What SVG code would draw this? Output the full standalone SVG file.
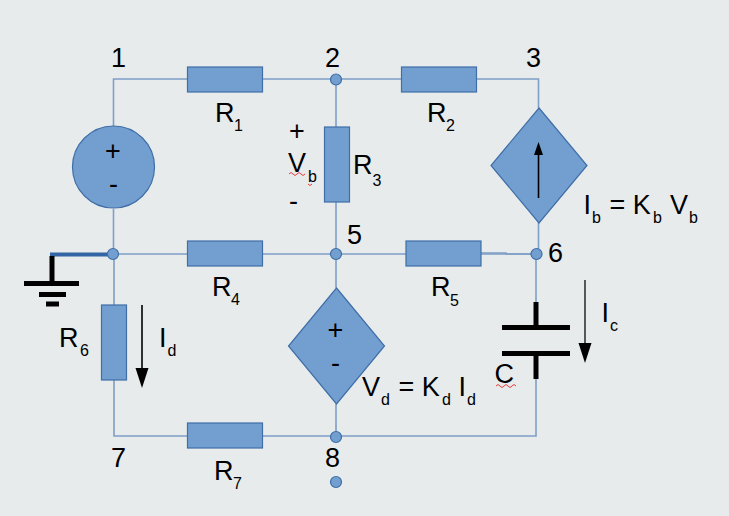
<svg xmlns="http://www.w3.org/2000/svg" width="729" height="516" viewBox="0 0 729 516">
<style>
.w{fill:none;stroke:#7f9fc6;stroke-width:1.6}
.s{fill:#729fcf;stroke:#3f6ea8;stroke-width:1.2}
.k{fill:none;stroke:#000;stroke-width:5}
.a{fill:none;stroke:#000;stroke-width:1.6}
.h{fill:#000;stroke:none}
.sq{fill:none;stroke:#ef3b3b;stroke-width:1}
text{font-family:"Liberation Sans",Arial,sans-serif;font-size:27px;fill:#000}
.u{font-size:16px}
</style>
<rect width="729" height="516" fill="#e7ebec"/>
<g id="connectors">
<path class="w" d="M113.500 126V79H538.500V108"/>
<path class="w" d="M113.500 209V254H537"/>
<path class="w" d="M336 79V127M336 202V288M336 404V437"/>
<path class="w" d="M538.500 222V254"/>
<path class="w" d="M481 253H506V254H537"/>
<path class="w" d="M536 254V302M536 379V436H114V380M114 305V254"/>
<path fill="none" stroke="#3465a4" stroke-width="4" d="M50 254.500H113"/>
</g>
<g id="ground">
<path class="k" d="M52 256V283M24 283.500H79M39 294.500H66M46 304H59"/>
</g>
<g id="R1"><rect class="s" x="187.500" y="67" width="75" height="25"/></g>
<g id="R2"><rect class="s" x="401.500" y="67" width="75" height="25"/></g>
<g id="R3"><rect class="s" x="324.500" y="127" width="25" height="75"/></g>
<g id="R4"><rect class="s" x="187.500" y="241" width="75" height="25"/></g>
<g id="R5"><rect class="s" x="406" y="241" width="75" height="25"/></g>
<g id="R6"><rect class="s" x="101.500" y="305" width="25" height="75"/></g>
<g id="R7"><rect class="s" x="187.500" y="423" width="75" height="25"/></g>
<g id="V1">
<circle class="s" cx="113.500" cy="167" r="41"/>
<text x="113" y="160" text-anchor="middle">+</text>
<text x="113.500" y="193" text-anchor="middle">-</text>
</g>
<g id="Vd">
<path class="s" d="M336.500 288L384.500 346L336.500 404L288.500 346Z"/>
<text x="335.500" y="339" text-anchor="middle">+</text>
<text x="335.500" y="372" text-anchor="middle">-</text>
</g>
<g id="Ib">
<path class="s" d="M539 108L587 165.500L539 223L491 165.500Z"/>
<path class="a" d="M538.500 198V150" stroke="#2a3a50"/>
<path class="h" d="M538.500 142L543 155H534Z"/>
</g>
<g id="C">
<path class="k" d="M536 302V327M502 327.500H570M502 353.500H570M536 354V379"/>
</g>
<g id="n1"><text x="111" y="67">1</text></g>
<g id="n2"><circle class="s" cx="336" cy="79.500" r="5.500"/><text x="325" y="67">2</text></g>
<g id="n3"><text x="526" y="67">3</text></g>
<g id="n4"><circle class="s" cx="113" cy="254" r="5.500"/></g>
<g id="n5"><circle class="s" cx="336" cy="254" r="5.500"/><text x="347" y="244">5</text></g>
<g id="n6"><circle class="s" cx="536.500" cy="254" r="5.500"/><text x="548" y="262">6</text></g>
<g id="n7"><text x="111" y="467">7</text></g>
<g id="n8"><circle class="s" cx="336" cy="437" r="5.500"/><text x="325" y="467">8</text></g>
<g id="n9"><circle class="s" cx="336" cy="482" r="5.500"/></g>
<g id="labels">
<text x="215" y="122">R</text><text class="u" x="234" y="131">1</text>
<text x="427" y="122">R</text><text class="u" x="446" y="131">2</text>
<text x="353" y="174">R</text><text class="u" x="372.500" y="186">3</text>
<text x="212" y="296">R</text><text class="u" x="231" y="305">4</text>
<text x="431" y="296">R</text><text class="u" x="450" y="306">5</text>
<text x="59" y="347">R</text><text class="u" x="80" y="356">6</text>
<text x="214" y="480">R</text><text class="u" x="233" y="489">7</text>
<text x="289" y="140">+</text>
<text x="288" y="172">V</text><text class="u" x="308" y="182">b</text>
<text x="289" y="210">-</text>
<path class="sq" d="M289 174q2-3 4 0t4 0t4 0t4 0M308 184q2 3 4 0"/>
<text x="159" y="347">I</text><text class="u" x="167.500" y="356">d</text>
<path class="a" d="M142 305V372"/><path class="h" d="M142 388L135.500 368H148.500Z"/>
<text x="601.500" y="322">I</text><text class="u" x="610" y="331">c</text>
<path d="M585 280V348" fill="none" stroke="#333" stroke-width="1.600"/><path class="h" d="M585 363L578.500 343H591.500Z"/>
<text x="494.500" y="383">C</text>
<path class="sq" d="M496 386q2-3 4 0t4 0t4 0t4 0t4 0"/>
<text x="362" y="396">V</text><text class="u" x="381" y="405">d</text>
<text x="398.500" y="396">= K</text><text class="u" x="442" y="405">d</text>
<text x="458.500" y="396">I</text><text class="u" x="467" y="405">d</text>
<text x="583.500" y="214">I</text><text class="u" x="592" y="223">b</text>
<text x="609.500" y="214">= K</text><text class="u" x="653" y="223">b</text>
<text x="670" y="214">V</text><text class="u" x="689" y="223">b</text>
</g>
</svg>
